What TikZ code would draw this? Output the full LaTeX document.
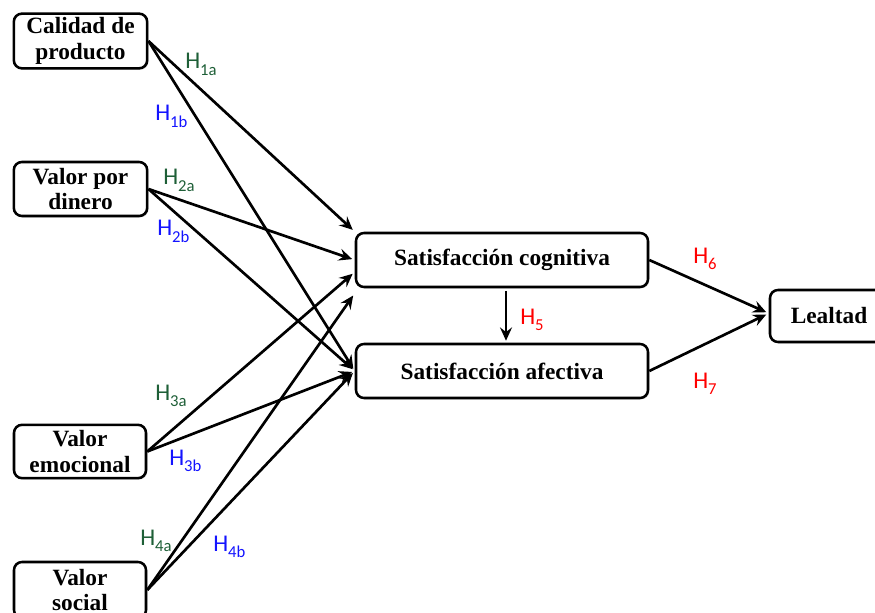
\documentclass[tikz,border=0pt]{standalone}
\usepackage{fontspec}
\setmainfont{Liberation Serif}
\newfontfamily\hypfont{Carlito}
\usetikzlibrary{arrows.meta,shadows}
\definecolor{hgreen}{RGB}{30,95,55}
\definecolor{hblue}{RGB}{20,20,255}
\definecolor{hred}{RGB}{255,0,0}
\newcommand{\hyp}[1]{H\raisebox{-5pt}{\fontsize{12.5}{13}\selectfont #1}}
\begin{document}
\begin{tikzpicture}[x=0.75pt,y=-0.75pt,
    box/.style={draw, line width=1.9pt, rounded corners=6pt, fill=white, align=center, inner sep=1pt,
      font=\fontsize{17.5}{19}\selectfont\bfseries,
      drop shadow={shadow xshift=1pt,shadow yshift=-1pt,fill=gray!70}},
    link/.style={line width=2pt, shorten >=2pt, -{Stealth[length=10pt,width=9pt,inset=3.5pt]}},
    hyp/.style={anchor=base west, inner sep=0pt, font=\fontsize{18}{20}\selectfont\hypfont}]
    \useasboundingbox (0,0) rectangle (875,613);
    \node [box, minimum width=100pt, minimum height=41pt] (cal) at (80.5,41) {Calidad de\\producto};
    \node [box, minimum width=100pt, minimum height=40.5pt] (din) at (80.5,189) {Valor por\\dinero};
    \node [box, minimum width=99pt, minimum height=40pt] (emo) at (80,451.5) {Valor\\emocional};
    \node [box, minimum width=99pt, minimum height=42pt] (soc) at (80,590) {Valor\\social};
    \node [box, minimum width=219pt, minimum height=40.5pt] (cog) at (502,260) {Satisfacción cognitiva};
    \node [box, minimum width=219pt, minimum height=40.5pt] (afe) at (502,371) {Satisfacción afectiva};
    \node [box, minimum width=88.5pt, minimum height=39pt] (lea) at (829,316) {Lealtad};
    % hacia satisfaccion cognitiva
    \draw [link] (cal.east) -- (cog.north west);
    \draw [link] (din.east) -- (cog.west);
    \draw [link] (emo.east) -- ([yshift=-9pt]cog.west);
    \draw [link] (soc.east) -- ([yshift=-25pt]cog.west);
    % hacia satisfaccion afectiva
    \draw [link] (cal.east) -- (afe.west);
    \draw [link] (din.east) -- (afe.west);
    \draw [link] (emo.east) -- (afe.west);
    \draw [link] (soc.east) -- (afe.west);
    % hacia lealtad
    \draw [link] (cog.east) -- ([yshift=2pt]lea.west);
    \draw [link] (afe.east) -- ([yshift=2pt]lea.west);
    \draw [link, line width=1.5pt, shorten <=2pt, shorten >=1.5pt] ([xshift=3pt]cog.south) -- ([xshift=3pt]afe.north);
    % hipotesis
    \node [hyp, text=hgreen] (h1a) at (185,69) {\hyp{1a}};
    \node [hyp, text=hblue] (h1b) at (155,121) {\hyp{1b}};
    \node [hyp, text=hgreen] (h2a) at (163,185) {\hyp{2a}};
    \node [hyp, text=hblue] (h2b) at (157,236) {\hyp{2b}};
    \node [hyp, text=hgreen] (h3a) at (155,400) {\hyp{3a}};
    \node [hyp, text=hblue] (h3b) at (169,465) {\hyp{3b}};
    \node [hyp, text=hgreen] (h4a) at (140,545) {\hyp{4a}};
    \node [hyp, text=hblue] (h4b) at (213,551) {\hyp{4b}};
    \node [hyp, text=hred] (h5) at (520,324) {\hyp{5}};
    \node [hyp, text=hred] (h6) at (693,263) {\hyp{6}};
    \node [hyp, text=hred] (h7) at (693,388) {\hyp{7}};
\end{tikzpicture}
\end{document}
